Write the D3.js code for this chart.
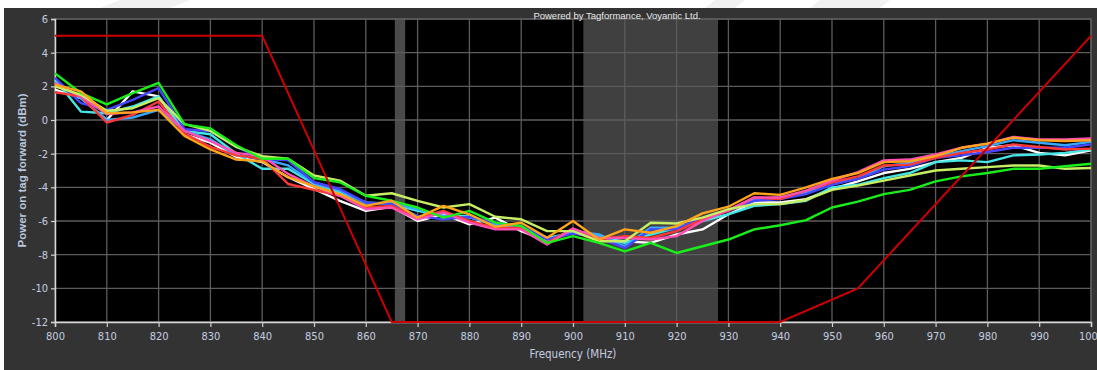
<!DOCTYPE html>
<html>
<head>
<meta charset="utf-8">
<script src="https://cdn.jsdelivr.net/npm/d3@7"></script>
<style>
  html, body { margin: 0; padding: 0; background: #fff; }
  svg { display: block; }
  .tick text { font-family: "Liberation Sans Narrow", "DejaVu Sans Condensed", Arial, sans-serif; font-size: 11px; fill: #c4cde0; }
</style>
</head>
<body>
<div id="chart-container"></div>
<script>
// Frequency points (MHz)
const freqs = [800, 805, 810, 815, 820, 825, 830, 835, 840, 845, 850, 855, 860, 865, 870, 875, 880, 885, 890, 895,
  900, 905, 910, 915, 920, 925, 930, 935, 940, 945, 950, 955, 960, 965, 970, 975, 980, 985, 990, 995, 1000];

// Power on tag forward (dBm), one array per tag
const whiteTag = [1.8, 1.3, 0.0, 1.7, 1.4, -0.85, -1.35, -2.2, -2.5, -3.4, -4.1, -4.8, -5.4, -5.15, -6.0, -5.6, -6.2, -5.8, -6.6, -7.2,
  -6.6, -7.1, -7.2, -7.3, -6.8, -6.5, -5.6, -4.9, -4.9, -4.7, -4.1, -3.65, -3.15, -2.9, -2.5, -2.25, -1.65, -1.5, -1.95, -2.1, -1.8];
const cyanTag = [2.4, 0.5, 0.4, 0.8, 1.4, -0.65, -0.85, -2.0, -2.9, -2.9, -3.8, -4.3, -4.9, -5.0, -5.4, -5.7, -5.7, -6.3, -6.4, -7.0,
  -6.7, -6.9, -7.3, -6.8, -6.4, -6.0, -5.6, -5.1, -5.0, -4.8, -4.0, -3.85, -3.45, -3.15, -2.5, -2.4, -2.5, -2.1, -2.05, -1.95, -1.75];
const skyTag = [2.2, 1.3, 0.0, 0.15, 0.6, -0.65, -1.15, -2.1, -2.3, -2.7, -3.75, -4.2, -4.95, -4.9, -5.3, -5.7, -5.8, -6.2, -6.3, -7.1,
  -6.6, -6.8, -7.5, -6.4, -6.4, -5.9, -5.35, -4.7, -4.6, -4.3, -3.7, -3.5, -2.75, -2.55, -2.2, -1.85, -1.55, -1.2, -1.35, -1.5, -1.3];
const blueTag = [2.5, 1.0, 0.6, 1.2, 1.9, -0.55, -0.65, -1.6, -2.3, -2.4, -3.7, -4.1, -4.9, -5.0, -5.7, -5.9, -5.75, -6.1, -6.3, -7.1,
  -6.75, -7.0, -7.6, -6.5, -6.5, -5.8, -5.4, -4.8, -4.7, -4.4, -3.85, -3.5, -2.95, -2.75, -2.25, -2.1, -1.9, -1.65, -1.65, -1.65, -1.45];
const redTag = [1.65, 1.4, -0.15, 0.3, 1.1, -0.8, -1.6, -2.1, -2.3, -3.8, -4.15, -4.5, -5.2, -5.1, -5.8, -5.4, -6.0, -6.4, -6.4, -7.3,
  -6.45, -7.1, -6.9, -7.0, -6.6, -5.9, -5.4, -4.6, -4.7, -4.2, -3.7, -3.35, -2.7, -2.65, -2.25, -1.95, -1.75, -1.45, -1.6, -1.75, -1.7];
const pinkTag = [2.2, 1.4, 0.35, 0.45, 0.8, -0.65, -1.25, -1.95, -2.15, -3.2, -3.95, -4.5, -5.3, -5.2, -5.9, -5.5, -6.1, -6.5, -6.5, -7.4,
  -6.45, -7.0, -7.0, -7.1, -6.9, -6.0, -5.35, -4.6, -4.6, -4.2, -3.6, -3.1, -2.4, -2.35, -2.05, -1.65, -1.4, -1.0, -1.15, -1.15, -1.1];
const limeTag = [2.0, 1.5, 0.55, 0.7, 1.3, -0.25, -0.65, -1.6, -2.15, -2.3, -3.3, -3.6, -4.5, -4.35, -4.8, -5.2, -5.0, -5.75, -5.9, -6.6,
  -6.6, -7.2, -7.2, -6.1, -6.15, -5.8, -5.3, -5.0, -5.0, -4.75, -4.15, -3.9, -3.6, -3.3, -3.0, -2.9, -2.8, -2.7, -2.7, -2.9, -2.85];
const greenTag = [2.77, 1.6, 0.93, 1.6, 2.2, -0.26, -0.5, -1.5, -2.3, -2.3, -3.45, -3.7, -4.5, -4.8, -5.2, -5.8, -5.4, -6.1, -6.3, -7.3,
  -6.9, -7.3, -7.8, -7.3, -7.9, -7.5, -7.1, -6.5, -6.25, -5.95, -5.2, -4.85, -4.4, -4.15, -3.65, -3.35, -3.15, -2.9, -2.9, -2.75, -2.6];
const orangeTag = [2.1, 1.7, 0.4, 0.45, 0.6, -0.95, -1.75, -2.35, -2.45, -3.4, -3.95, -4.4, -5.1, -4.8, -5.8, -5.1, -5.6, -6.35, -6.1, -7.0,
  -6.0, -7.1, -6.5, -6.7, -6.3, -5.55, -5.15, -4.35, -4.45, -4.0, -3.5, -3.15, -2.5, -2.45, -2.15, -1.65, -1.4, -1.05, -1.2, -1.25, -1.2];

const tagColors = ['#ffffff', '#44e6e6', '#38a8ff', '#4646ff', '#ff3838', '#ff4fb4', '#c8ee66', '#1aee1a', '#ffa41c'];

// Regulatory limit line
const limitFreqs = [800, 840, 865, 940, 955, 1000];
const limitPower = [5, 5, -12, -12, -10, 5];

// Shaded bands (MHz)
const bandStart = [865.6, 902];
const bandEnd = [867.6, 928];

const xTicks = [800, 810, 820, 830, 840, 850, 860, 870, 880, 890, 900, 910, 920, 930, 940, 950, 960, 970, 980, 990, 1000];
const yTicks = [-12, -10, -8, -6, -4, -2, 0, 2, 4, 6];

const W = 1097, H = 370;
const plot = { left: 55, right: 1091, top: 19, bottom: 322 };

const svg = d3.select('#chart-container').append('svg')
  .attr('width', W).attr('height', H);

// faint shapes in the white strip above the panel
svg.append('g').selectAll('polygon')
  .data([[[120, 0], [190, 0], [170, 8], [100, 8]], [[715, 0], [745, 0], [735, 8], [705, 8]], [[820, 0], [890, 0], [880, 8], [810, 8]]])
  .join('polygon')
  .attr('points', d => d.map(p => p.join(',')).join(' '))
  .attr('fill', '#f1f1f1');

// dark panel
svg.append('rect').attr('x', 4).attr('y', 8).attr('width', W - 4).attr('height', H - 8).attr('fill', '#333333');

const x = d3.scaleLinear().domain([800, 1000]).range([plot.left, plot.right]);
const y = d3.scaleLinear().domain([-12, 6]).range([plot.bottom, plot.top]);

svg.append('rect')
  .attr('x', plot.left).attr('y', plot.top)
  .attr('width', plot.right - plot.left).attr('height', plot.bottom - plot.top)
  .attr('fill', '#000');

// bands
svg.append('g').selectAll('rect')
  .data(bandStart.map((s, i) => [s, bandEnd[i]]))
  .join('rect')
  .attr('x', d => x(d[0])).attr('y', plot.top)
  .attr('width', d => x(d[1]) - x(d[0])).attr('height', plot.bottom - plot.top)
  .attr('fill', (d, i) => i === 0 ? '#4a4a4a' : '#404040');

// grid
const grid = svg.append('g').attr('stroke', '#5c5c5c').attr('stroke-width', 1.3);
grid.selectAll('.vg').data(xTicks).join('line')
  .attr('x1', d => x(d)).attr('x2', d => x(d))
  .attr('y1', plot.top).attr('y2', plot.bottom);
grid.selectAll('.hg').data(yTicks).join('line')
  .attr('x1', plot.left).attr('x2', plot.right)
  .attr('y1', d => y(d)).attr('y2', d => y(d));

svg.append('rect')
  .attr('x', plot.left).attr('y', plot.top)
  .attr('width', plot.right - plot.left).attr('height', plot.bottom - plot.top)
  .attr('fill', 'none').attr('stroke', '#5c5c5c').attr('stroke-width', 1.3);

// axes
const xAxis = svg.append('g')
  .attr('transform', `translate(0,${plot.bottom})`)
  .call(d3.axisBottom(x).tickValues(xTicks).tickSize(5).tickPadding(5).tickFormat(d3.format('d')));
const yAxis = svg.append('g')
  .attr('transform', `translate(${plot.left},0)`)
  .call(d3.axisLeft(y).tickValues(yTicks).tickSize(4).tickPadding(3).tickFormat(d => d < 0 ? '-' + Math.abs(d) : d));
[xAxis, yAxis].forEach(a => {
  a.select('.domain').attr('stroke', '#d8d8d8').attr('stroke-width', 1.5);
  a.selectAll('.tick line').attr('stroke', '#d0d0d0').attr('stroke-width', 1.2);
});

// tag curves
const line = d3.line().x((d, i) => x(freqs[i])).y(d => y(d));
const tags = [whiteTag, cyanTag, skyTag, blueTag, redTag, pinkTag, limeTag, greenTag, orangeTag];
svg.append('g').selectAll('path')
  .data(tags)
  .join('path')
  .attr('d', line)
  .attr('fill', 'none')
  .attr('stroke', (d, i) => tagColors[i])
  .attr('stroke-width', 2.4)
  .attr('stroke-linejoin', 'round');

// limit line
const limitLine = d3.line().x((d, i) => x(limitFreqs[i])).y(d => y(d));
svg.append('path')
  .attr('d', limitLine(limitPower))
  .attr('fill', 'none')
  .attr('stroke', '#cc0000')
  .attr('stroke-width', 2);

// texts
svg.append('text')
  .attr('x', 617).attr('y', 19)
  .attr('text-anchor', 'middle')
  .attr('font-family', 'Liberation Sans, Arial, sans-serif')
  .attr('font-size', 9.5)
  .attr('fill', '#e8e8e8')
  .text('Powered by Tagformance, Voyantic Ltd.');

svg.append('text')
  .attr('x', (plot.left + plot.right) / 2).attr('y', 358)
  .attr('text-anchor', 'middle')
  .attr('font-family', '"Liberation Sans Narrow", "DejaVu Sans Condensed", Arial, sans-serif')
  .attr('font-size', 11.5)
  .attr('fill', '#c4cde0')
  .text('Frequency (MHz)');

svg.append('text')
  .attr('transform', `translate(26,${(plot.top + plot.bottom) / 2}) rotate(-90)`)
  .attr('text-anchor', 'middle')
  .attr('font-family', 'Liberation Sans, Arial, sans-serif')
  .attr('font-size', 11.5)
  .attr('font-weight', 'bold')
  .attr('fill', '#b8c6de')
  .text('Power on tag forward (dBm)');
</script>
</body>
</html>
